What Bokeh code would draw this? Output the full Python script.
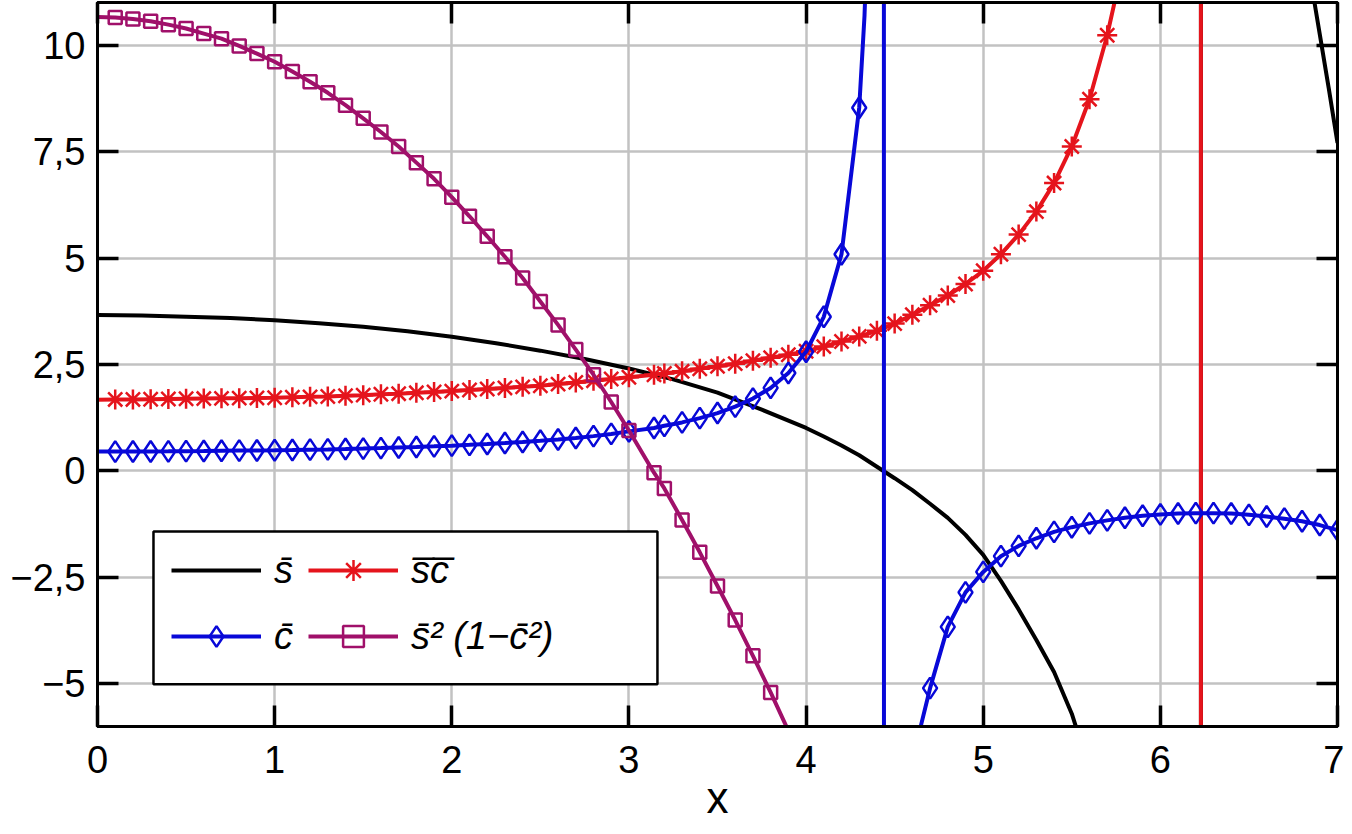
from bokeh.plotting import figure
from bokeh.models import LinearAxis, FixedTicker, Legend, LegendItem, Range1d, BoxAnnotation
from bokeh.embed import file_html
from bokeh.resources import INLINE

# ---------------- data ----------------
# common sampling grid of the markers (pi replaces 3.1)
X_GRID = [0.1, 0.2, 0.3, 0.4, 0.5, 0.6, 0.7, 0.8, 0.9, 1.0,
          1.1, 1.2, 1.3, 1.4, 1.5, 1.6, 1.7, 1.8, 1.9, 2.0,
          2.1, 2.2, 2.3, 2.4, 2.5, 2.6, 2.7, 2.8, 2.9, 3.0,
          3.1416,
          3.2, 3.3, 3.4, 3.5, 3.6, 3.7, 3.8, 3.9, 4.0,
          4.1, 4.2, 4.3, 4.4, 4.5, 4.6, 4.7, 4.8, 4.9, 5.0,
          5.1, 5.2, 5.3, 5.4, 5.5, 5.6, 5.7, 5.8, 5.9, 6.0,
          6.1, 6.2, 6.3, 6.4, 6.5, 6.6, 6.7, 6.8, 6.9, 7.0]

# s-bar (black, line only)
S_X = [0.0, 0.25, 0.5, 0.75, 1.0, 1.25, 1.5, 1.75, 2.0, 2.25, 2.5, 2.75, 3.0, 3.25, 3.5, 3.75, 4.0,
       4.1, 4.2, 4.3, 4.4, 4.5, 4.6, 4.7, 4.8, 4.9, 5.0, 5.1, 5.2, 5.3, 5.4, 5.5, 5.6,
       5.8, 6.0, 6.1, 6.2, 6.226, 6.232,
       6.3, 6.4, 6.5, 6.6, 6.7, 6.8,
       6.87, 6.9, 6.95, 7.0]
S_Y = [3.66, 3.65, 3.62, 3.59, 3.54, 3.47, 3.385, 3.28, 3.15, 3.00, 2.825, 2.63, 2.405, 2.15, 1.84, 1.44, 1.01,
       0.81, 0.60, 0.37, 0.10, -0.17, -0.45, -0.77, -1.10, -1.50, -1.97, -2.58, -3.25, -3.97, -4.72, -5.70, -7.0,
       -11.5, -20.0, -35.0, -130.0, -1000.0, 1000.0,
       70.0, 35.0, 24.0, 18.5, 15.2, 12.7,
       11.0, 10.25, 9.0, 7.7]

# s-bar c-bar (red, stars at X_GRID[0:57])
SC_Y = [1.68, 1.68, 1.685, 1.69, 1.695, 1.70, 1.705, 1.71, 1.715, 1.72,
        1.73, 1.74, 1.75, 1.765, 1.78, 1.80, 1.815, 1.835, 1.855, 1.875,
        1.90, 1.925, 1.95, 1.975, 2.00, 2.04, 2.08, 2.12, 2.16, 2.20,
        2.26,
        2.29, 2.34, 2.40, 2.46, 2.52, 2.59, 2.66, 2.73, 2.81,
        2.92, 3.04, 3.16, 3.29, 3.46, 3.67, 3.89, 4.12, 4.39, 4.70,
        5.09, 5.55, 6.09, 6.76, 7.62, 8.73, 10.23]
SC_EXTRA_X = [0.0, 5.8, 5.9, 6.0, 6.1, 6.2, 6.226, 6.232, 6.3, 6.5, 7.0]
SC_EXTRA_Y = [1.67, 12.1, 14.6, 18.5, 27.0, 80.0, 1000.0, -1000.0, -70.0, -22.0, -11.0]

# c-bar (blue, diamonds at all X_GRID)
C_Y = [0.455, 0.456, 0.458, 0.461, 0.465, 0.469, 0.474, 0.478, 0.482, 0.487,
       0.493, 0.500, 0.507, 0.516, 0.526, 0.537, 0.550, 0.563, 0.578, 0.595,
       0.613, 0.633, 0.656, 0.681, 0.708, 0.740, 0.775, 0.818, 0.87, 0.93,
       1.01,
       1.06, 1.14, 1.24, 1.36, 1.51, 1.70, 1.95, 2.30, 2.80,
       3.62, 5.09, 8.53, 26.0, -14.0, -7.2, -5.1, -3.66, -2.85, -2.37,
       -2.0, -1.76, -1.58, -1.43, -1.32, -1.23, -1.16, -1.10, -1.05, -1.02,
       -1.00, -0.99, -0.99, -1.00, -1.03, -1.07, -1.12, -1.18, -1.27, -1.39]
C_EXTRA_X = [0.0, 4.33, 4.36, 4.43, 4.437, 4.443, 4.46, 4.55, 4.65]
C_EXTRA_Y = [0.455, 10.7, 14.3, 70.0, 115.0, -150.0, -35.0, -9.4, -5.95]

# s-bar^2 (1 - c-bar^2) (purple, squares at X_GRID[0:38])
P_Y = [10.65, 10.61, 10.56, 10.48, 10.39, 10.27, 10.15, 9.98, 9.80, 9.61,
       9.38, 9.14, 8.88, 8.59, 8.28, 7.96, 7.62, 7.24, 6.86, 6.43,
       5.98, 5.51, 5.03, 4.53, 3.98, 3.43, 2.85, 2.26, 1.62, 0.95,
       -0.04,
       -0.41, -1.15, -1.91, -2.70, -3.50, -4.34, -5.20]
P_EXTRA_X = [0.0, 3.9, 4.0]
P_EXTRA_Y = [10.66, -6.1, -7.1]

X_TICKS = [0, 1, 2, 3, 4, 5, 6, 7]
Y_TICKS = [-5, -2.5, 0, 2.5, 5, 7.5, 10]
Y_TICK_LABELS = ["\u22125", "\u22122,5", "0", "2,5", "5", "7,5", "10"]

LABELS = ["s\u0304", "c\u0304", "s\u0305c\u0305", "s\u0304\u00b2 (1\u2212c\u0304\u00b2)"]
X_LABEL = "x"

# ---------------- layout / style ----------------
FONT = "Liberation Sans"
BLACK = "#000000"
RED = "#e5141c"
BLUE = "#0808d8"
PURPLE = "#a0106a"
LW = 4

# legend frame (in axis units) and legend item anchor (screen px from frame bottom-left)
LEGEND_BOX = dict(left=0.316, right=3.161, bottom=-5.01, top=-1.42)
LEGEND_LOC = (74, 64)


def merged(mx, my, ex, ey):
    pts = sorted(list(zip(mx, my)) + list(zip(ex, ey)))
    return [a for a, _ in pts], [b for _, b in pts]


p = figure(width=1344, height=826,
           x_range=Range1d(0, 7), y_range=Range1d(-6.0, 11.0),
           output_backend="svg", toolbar_location=None,
           min_border=0, min_border_left=97, min_border_right=7,
           min_border_top=2, min_border_bottom=100)
p.xaxis.axis_label = X_LABEL

p.add_layout(LinearAxis(), "above")
p.add_layout(LinearAxis(), "right")

for ax in p.xaxis:
    ax.ticker = FixedTicker(ticks=X_TICKS)
for ax in p.yaxis:
    ax.ticker = FixedTicker(ticks=Y_TICKS)
    ax.major_label_overrides = dict(zip(Y_TICKS, Y_TICK_LABELS))

for ax in p.axis:
    ax.axis_line_color = "black"
    ax.axis_line_width = 3
    ax.major_tick_in = 21
    ax.major_tick_out = 0
    ax.major_tick_line_width = 3.5
    ax.major_tick_line_color = "black"
    ax.minor_tick_line_color = None
    ax.major_label_text_font = FONT
    ax.major_label_text_font_size = "38px"
    ax.major_label_text_color = "black"
    ax.major_label_standoff = 12

for ax in (p.above[0], p.right[0]):
    ax.major_label_text_font_size = "1px"
    ax.major_label_text_color = None
    ax.major_label_standoff = 0

p.below[0].axis_label_text_font = FONT
p.below[0].axis_label_text_font_size = "44px"
p.below[0].axis_label_text_font_style = "normal"
p.below[0].axis_label_text_color = "black"
p.below[0].axis_label_standoff = -3
p.below[0].major_label_standoff = 19

p.xgrid.ticker = FixedTicker(ticks=X_TICKS)
p.ygrid.ticker = FixedTicker(ticks=Y_TICKS)
p.grid.grid_line_color = "#c2c2c2"
p.grid.grid_line_width = 2.5

p.outline_line_color = "black"
p.outline_line_width = 3
p.outline_line_alpha = 1.0
p.background_fill_color = "white"
p.border_fill_color = "white"

# black
rb = p.line(S_X, S_Y, line_color=BLACK, line_width=LW)

# red
sc_lx, sc_ly = merged(X_GRID[0:57], SC_Y, SC_EXTRA_X, SC_EXTRA_Y)
rl = p.line(sc_lx, sc_ly, line_color=RED, line_width=LW)
rm = p.scatter(X_GRID[0:57], SC_Y, marker="asterisk", size=20, line_color=RED, line_width=2.5)

# blue
c_lx, c_ly = merged(X_GRID, C_Y, C_EXTRA_X, C_EXTRA_Y)
bl = p.line(c_lx, c_ly, line_color=BLUE, line_width=LW)
bm = p.scatter(X_GRID, C_Y, marker="diamond", size=21, line_color=BLUE, line_width=2.5,
               fill_color=None)

# purple
p_lx, p_ly = merged(X_GRID[0:38], P_Y, P_EXTRA_X, P_EXTRA_Y)
pl = p.line(p_lx, p_ly, line_color=PURPLE, line_width=LW)
pm = p.scatter(X_GRID[0:38], P_Y, marker="square", size=13, line_color=PURPLE, line_width=2.5,
               fill_color=None)

# legend frame
p.add_layout(BoxAnnotation(**LEGEND_BOX, fill_color="white", fill_alpha=1.0,
                           line_color="black", line_width=2.5, line_alpha=1.0))

legend = Legend(items=[LegendItem(label=LABELS[0], renderers=[rb]),
                       LegendItem(label=LABELS[1], renderers=[bl, bm]),
                       LegendItem(label=LABELS[2], renderers=[rl, rm]),
                       LegendItem(label=LABELS[3], renderers=[pl, pm])],
                location=LEGEND_LOC, ncols=2, orientation="vertical",
                glyph_width=90, glyph_height=52, label_height=52,
                label_standoff=13, spacing=14, padding=16, margin=0,
                label_text_font=FONT, label_text_font_size="38px",
                label_text_font_style="italic", label_text_color="black",
                border_line_color=None, background_fill_alpha=0.0)
p.add_layout(legend)

open("out.html", "w").write(file_html(p, INLINE))
